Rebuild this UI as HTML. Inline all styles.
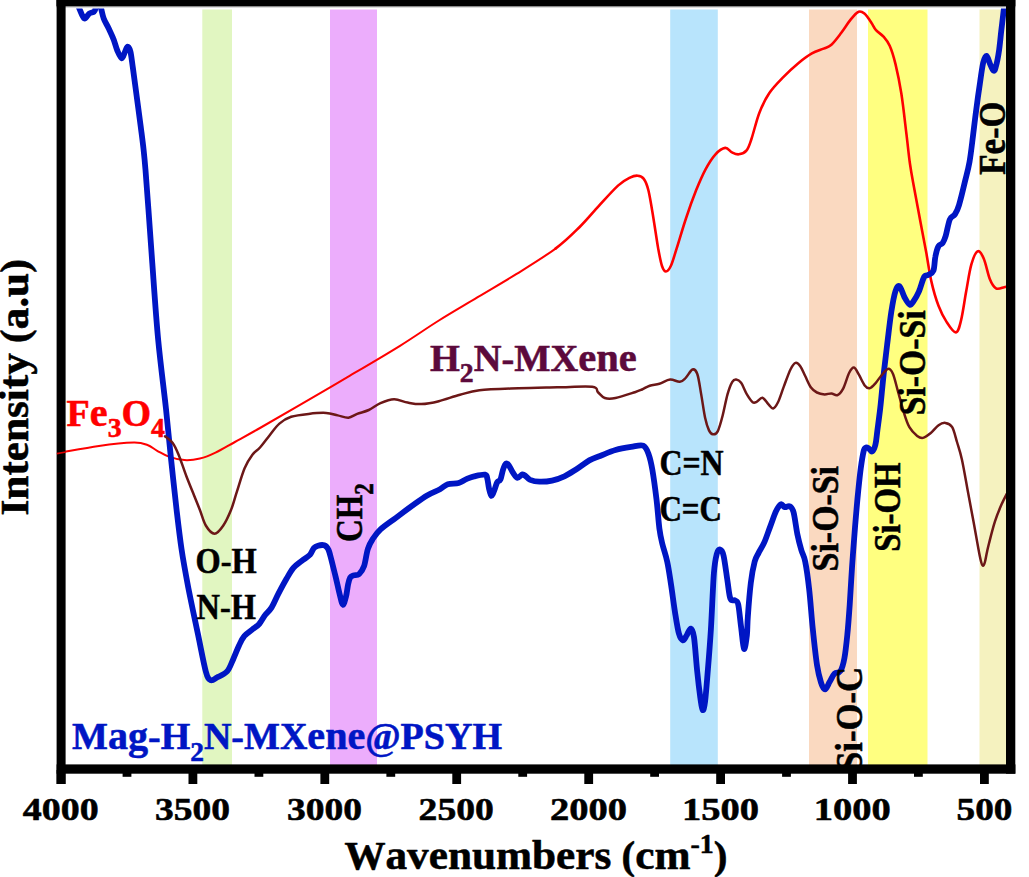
<!DOCTYPE html>
<html><head><meta charset="utf-8"><title>FTIR</title>
<style>html,body{margin:0;padding:0;background:#fff}body{width:1029px;height:877px;overflow:hidden;font-family:"Liberation Serif",serif}</style></head>
<body>
<svg width="1029" height="877" viewBox="0 0 1029 877" style="display:block">
<rect width="1029" height="877" fill="#fff"/>
<rect x="202.3" y="9.5" width="29.7" height="756" fill="#e1f6c1"/>
<rect x="330.0" y="9.5" width="47.0" height="756" fill="#ecadfc"/>
<rect x="670.2" y="9.5" width="47.6" height="756" fill="#b8e4fc"/>
<rect x="809.0" y="9.5" width="48.0" height="756" fill="#fad9c0"/>
<rect x="868.0" y="9.5" width="59.5" height="756" fill="#ffff80"/>
<rect x="979.5" y="9.5" width="26.5" height="756" fill="#f5f2bf"/>
<defs><clipPath id="cp"><rect x="60" y="8.6" width="950" height="760"/></clipPath></defs>
<g clip-path="url(#cp)" fill="none" stroke-linejoin="round" stroke-linecap="round">
<path d="M60.0,452.7 C66.5,451.6 86.6,447.6 98.9,445.9 C111.2,444.2 125.8,442.8 133.9,442.6 C142.0,442.5 143.6,443.6 147.5,445.0 C151.4,446.4 153.6,448.9 157.2,450.8 C160.8,452.7 164.3,455.1 168.8,456.6 C173.3,458.2 179.2,459.8 184.4,460.1 C189.6,460.4 194.7,459.8 199.9,458.6 C205.1,457.4 209.7,455.5 215.5,452.7 C221.3,449.9 227.5,446.1 234.9,442.0 C242.3,437.9 249.2,434.2 260.0,428.0 C270.9,421.8 285.0,413.5 300.0,404.8 C315.0,396.1 333.3,385.4 350.0,375.6 C366.7,365.8 385.2,355.0 400.0,345.8 C414.8,336.6 425.9,328.6 438.9,320.5 C451.8,312.4 464.8,305.0 477.7,297.2 C490.6,289.4 503.6,282.0 516.6,273.9 C529.6,265.8 545.0,256.4 555.5,248.6" stroke="#ff0000" stroke-width="2.05"/>
<path d="M555.5,248.6 C566.0,240.8 572.2,234.3 579.4,227.2 C586.6,220.1 592.4,212.8 598.9,205.8 C605.4,198.8 613.1,190.1 618.3,185.4 C623.5,180.7 626.8,179.2 630.0,177.6 C633.2,176.0 635.4,175.5 637.7,175.7 C640.0,175.9 641.8,176.2 643.6,178.6 C645.4,181.0 646.8,183.8 648.4,190.3 C650.0,196.8 651.7,207.8 653.3,217.5 C654.9,227.2 656.8,240.5 658.2,248.6 C659.7,256.7 660.7,262.2 662.0,266.0 C663.3,269.8 664.4,271.5 665.9,271.5 C667.4,271.5 669.0,269.8 670.8,266.0 C672.6,262.2 674.0,256.7 676.6,248.6 C679.2,240.5 683.0,227.2 686.3,217.5 C689.5,207.8 692.9,198.4 696.1,190.3 C699.4,182.2 702.6,174.9 705.8,168.9 C709.0,162.9 712.3,157.8 715.5,154.3 C718.7,150.8 722.5,148.2 725.2,147.9 C728.0,147.6 729.7,151.3 732.0,152.4 C734.3,153.5 736.4,154.6 738.8,154.3 C741.2,154.0 744.5,153.0 746.6,150.4 C748.7,147.8 749.5,144.8 751.6,138.5 C753.7,132.2 756.5,120.2 759.4,112.7 C762.3,105.2 765.3,99.1 769.2,93.3 C773.1,87.5 777.9,82.7 782.8,77.7 C787.6,72.7 793.4,67.2 798.3,63.2 C803.1,59.2 807.7,55.8 811.9,53.4 C816.1,51.0 820.4,50.0 823.6,48.6 C826.9,47.2 828.5,47.3 831.4,44.7 C834.3,42.1 837.9,37.2 841.1,33.0 C844.3,28.8 847.9,22.9 850.8,19.4 C853.7,15.8 856.3,12.7 858.6,11.7 C860.9,10.7 862.3,11.8 864.4,13.6 C866.5,15.4 869.3,19.6 871.2,22.4 C873.1,25.1 873.9,27.7 876.0,30.1 C878.1,32.5 881.5,34.3 883.8,36.9 C886.1,39.5 887.8,41.2 889.7,45.7 C891.7,50.2 893.6,56.2 895.5,64.1 C897.4,72.0 899.5,82.0 901.3,93.3 C903.1,104.6 904.8,120.4 906.2,132.2 C907.7,144.0 908.7,154.9 910.0,164.0 C911.3,173.1 912.2,177.4 913.9,186.7 C915.6,195.9 918.0,208.6 920.0,219.5 C922.0,230.4 924.3,242.0 926.2,252.3 C928.1,262.6 929.2,272.2 931.3,281.1 C933.3,290.0 935.9,298.9 938.5,305.7 C941.1,312.5 943.8,317.7 946.7,322.1 C949.6,326.6 953.5,332.7 955.9,332.4 C958.3,332.1 959.4,327.0 961.1,320.1 C962.8,313.2 964.5,300.5 966.2,291.3 C967.9,282.1 969.4,271.4 971.3,264.7 C973.2,258.0 975.4,252.3 977.5,251.3 C979.6,250.3 981.7,253.9 983.7,258.5 C985.8,263.1 987.8,274.0 989.8,279.0 C991.8,284.0 993.6,286.9 996.0,288.3 C998.4,289.7 1002.2,287.6 1004.2,287.2 C1006.2,286.8 1007.6,286.4 1008.3,286.2" stroke="#ff0000" stroke-width="2.6"/>
<path d="M78.0,4.0 C78.2,4.8 78.4,6.3 79.4,8.7 C80.5,11.1 82.7,17.7 84.3,18.5 C85.9,19.3 87.6,14.7 89.2,13.6 C90.8,12.5 93.0,12.5 94.0,11.7 C95.0,10.9 95.1,10.0 95.5,8.7 C95.9,7.4 96.2,4.8 96.3,4.0" stroke="#0016c4" stroke-width="5.8"/>
<path d="M100.3,4.0 C100.5,4.8 100.6,6.3 101.2,8.7 C101.8,11.1 102.5,15.2 103.7,18.5 C104.9,21.8 107.0,24.8 108.6,28.2 C110.2,31.6 112.0,35.2 113.4,38.9 C114.9,42.6 115.9,47.3 117.3,50.5 C118.7,53.7 120.5,58.1 121.8,58.3 C123.1,58.5 124.1,53.5 125.1,51.5 C126.1,49.5 126.7,46.6 127.6,46.6 C128.5,46.6 129.5,47.9 130.4,51.5 C131.3,55.1 131.8,60.4 132.9,68.0 C134.0,75.6 135.5,87.5 136.8,97.2 C138.1,106.9 139.6,117.5 140.7,126.3 C141.8,135.0 142.8,142.4 143.6,149.7 C144.4,157.0 144.7,160.1 145.5,170.0 C146.3,179.9 147.3,193.3 148.4,208.9 C149.5,224.5 150.7,241.5 152.3,263.3 C153.9,285.2 155.9,315.9 158.2,340.0 C160.5,364.1 163.8,388.6 165.9,408.0 C168.0,427.4 169.0,439.6 170.8,456.6 C172.6,473.6 174.8,494.6 176.6,510.0 C178.4,525.4 179.6,535.9 181.5,548.9 C183.4,561.9 185.6,573.5 188.3,587.7 C191.1,602.0 195.1,620.5 198.0,634.4 C200.9,648.3 203.7,663.8 205.8,671.4 C207.9,679.0 208.7,679.1 210.6,680.1 C212.5,681.1 214.7,678.7 217.4,677.2 C220.2,675.8 224.5,674.3 227.1,671.4 C229.7,668.5 231.1,663.9 233.0,659.7 C234.9,655.5 237.0,649.9 238.8,646.0 C240.7,642.1 241.8,639.0 244.1,636.3 C246.3,633.5 249.8,631.5 252.3,629.5 C254.8,627.5 257.1,626.3 259.2,624.0 C261.2,621.7 262.6,618.5 264.6,615.8 C266.7,613.1 269.2,611.2 271.5,607.6 C273.8,604.0 275.8,598.7 278.3,593.9 C280.8,589.1 284.0,583.1 286.5,578.8 C289.0,574.5 290.9,570.9 293.4,567.9 C295.9,564.9 298.9,563.2 301.6,561.0 C304.3,558.8 307.8,557.1 309.8,554.9 C311.9,552.7 312.5,549.5 313.9,548.0 C315.3,546.5 316.3,546.2 318.0,545.7 C319.7,545.2 322.5,544.7 324.2,545.3 C325.9,545.9 327.1,546.8 328.3,549.4 C329.6,552.0 330.4,556.3 331.7,561.0 C332.9,565.7 334.4,571.8 335.8,577.5 C337.2,583.2 338.7,590.8 339.9,595.3 C341.1,599.8 341.9,604.6 342.9,604.8 C343.9,605.0 345.1,600.0 346.0,596.6 C346.9,593.2 347.4,587.5 348.1,584.3 C348.8,581.1 349.3,579.0 350.2,577.5 C351.1,576.0 352.1,576.0 353.6,575.4 C355.1,574.8 357.4,575.6 359.1,574.1 C360.8,572.6 362.5,570.5 364.0,566.3 C365.5,562.1 366.4,553.3 367.9,548.8 C369.3,544.3 370.6,542.3 372.7,539.1 C374.8,535.9 376.6,533.0 380.5,529.4 C384.4,525.8 390.9,521.6 396.1,517.7 C401.3,513.8 406.4,509.8 411.6,506.1 C416.8,502.4 422.4,498.2 427.1,495.4 C431.8,492.6 436.6,491.1 440.0,489.2 C443.4,487.3 444.7,485.2 447.8,484.2 C450.9,483.2 455.6,483.9 458.7,483.0 C461.8,482.1 463.8,480.2 466.4,479.1 C469.0,478.0 471.1,477.0 474.2,476.3 C477.3,475.6 482.9,474.2 485.1,474.7 C487.3,475.2 486.8,476.8 487.4,479.1 C488.0,481.4 488.4,485.6 489.0,488.4 C489.6,491.2 490.4,495.6 491.3,495.9 C492.2,496.2 493.4,492.3 494.4,490.0 C495.4,487.7 496.2,483.9 497.2,482.2 C498.2,480.5 499.4,481.7 500.4,479.6 C501.4,477.5 502.1,472.5 503.0,469.8 C503.9,467.1 505.1,464.1 506.1,463.5 C507.1,462.9 508.0,464.3 509.2,465.9 C510.4,467.5 511.7,470.9 513.1,472.9 C514.5,474.9 515.9,477.6 517.4,477.8 C518.9,478.1 521.0,474.7 522.4,474.4 C523.8,474.1 524.2,475.1 525.5,476.0 C526.8,476.9 527.9,478.9 530.2,479.9 C532.5,480.8 535.9,481.6 539.5,481.7 C543.1,481.8 547.9,481.5 552.0,480.6 C556.1,479.7 560.3,478.2 564.4,476.3 C568.5,474.4 572.6,471.6 576.8,469.0 C580.9,466.4 585.4,462.6 589.3,460.4 C593.2,458.2 595.6,457.7 600.0,456.0 C604.4,454.3 610.3,451.5 615.5,450.0 C620.7,448.5 626.4,447.6 631.0,446.9 C635.6,446.2 640.2,444.4 643.2,445.6 C646.2,446.9 647.2,450.3 648.7,454.4 C650.2,458.5 651.1,462.5 652.4,470.0 C653.7,477.5 655.3,489.6 656.5,499.4 C657.7,509.2 658.4,521.1 659.4,528.6 C660.4,536.1 661.1,538.6 662.4,544.1 C663.7,549.6 665.8,554.8 667.2,561.6 C668.7,568.4 669.8,576.6 671.1,585.0 C672.4,593.4 673.7,604.1 675.0,612.2 C676.3,620.3 677.6,628.9 678.9,633.6 C680.2,638.3 681.5,640.0 682.8,640.3 C684.1,640.6 685.3,637.5 686.6,635.5 C687.9,633.5 689.5,628.3 690.7,628.6 C691.9,628.9 692.9,629.9 694.0,637.2 C695.1,644.5 696.2,662.2 697.3,672.2 C698.3,682.2 699.4,691.2 700.3,697.5 C701.2,703.8 701.8,709.5 702.6,710.1 C703.4,710.8 704.2,708.4 705.1,701.4 C706.0,694.4 707.0,680.3 708.0,668.3 C709.0,656.3 709.9,645.2 710.9,629.4 C711.9,613.6 712.9,585.9 713.9,573.3 C714.9,560.7 715.8,557.8 716.8,553.9 C717.8,550.0 719.0,549.3 720.1,549.6 C721.2,549.9 722.4,550.5 723.6,555.8 C724.8,561.0 726.4,574.0 727.5,581.1 C728.6,588.2 729.1,595.4 730.4,598.6 C731.7,601.8 733.9,599.5 735.2,600.5 C736.5,601.5 737.2,600.0 738.2,604.4 C739.2,608.8 740.1,619.6 741.1,627.0 C742.1,634.4 743.0,647.5 744.0,648.9 C745.0,650.3 746.2,640.8 746.9,635.3 C747.5,629.8 747.2,624.7 747.9,616.0 C748.5,607.3 749.7,592.1 750.8,583.0 C751.9,573.9 753.4,566.6 754.7,561.6 C756.0,556.6 757.0,556.1 758.6,552.9 C760.2,549.7 762.5,546.6 764.4,542.2 C766.3,537.8 768.2,531.8 770.2,526.6 C772.2,521.4 774.3,514.8 776.1,511.1 C777.9,507.4 779.5,505.0 780.9,504.3 C782.3,503.6 783.3,506.9 784.8,507.2 C786.3,507.5 788.2,505.4 789.7,506.2 C791.2,507.0 792.2,507.4 793.5,512.1 C794.8,516.8 796.1,528.1 797.4,534.4 C798.7,540.7 800.0,545.5 801.3,550.0 C802.6,554.5 803.9,555.1 805.2,561.6 C806.5,568.1 807.9,577.7 809.1,588.8 C810.4,599.9 811.4,615.3 812.7,628.0 C814.0,640.7 815.6,655.9 817.0,665.0 C818.4,674.1 819.7,678.4 821.0,682.5 C822.3,686.6 823.5,689.5 825.0,689.4 C826.5,689.3 828.1,684.4 829.7,681.8 C831.3,679.1 832.8,675.3 834.6,673.5 C836.4,671.7 838.9,673.5 840.5,671.0 C842.1,668.5 843.3,664.3 844.4,658.3 C845.5,652.3 846.4,643.9 847.3,635.0 C848.2,626.1 848.9,616.5 849.7,605.0 C850.5,593.5 851.2,579.2 852.1,566.3 C853.0,553.4 854.0,539.5 855.0,527.5 C856.0,515.5 856.9,504.3 857.9,494.4 C858.9,484.5 859.8,475.2 860.8,468.0 C861.8,460.8 862.9,454.4 863.7,451.0 C864.5,447.6 864.9,448.1 865.7,447.6 C866.5,447.1 867.5,447.6 868.6,448.2 C869.7,448.8 871.0,452.1 872.1,451.5 C873.2,450.9 874.5,448.1 875.4,444.7 C876.3,441.3 876.5,437.3 877.3,431.1 C878.1,424.9 879.3,416.4 880.3,407.7 C881.3,398.9 882.1,389.1 883.2,378.6 C884.3,368.2 885.8,356.1 887.1,345.0 C888.5,333.9 889.9,320.8 891.3,311.9 C892.7,302.9 894.0,295.6 895.4,291.3 C896.8,287.0 898.0,285.2 899.5,286.2 C901.0,287.2 902.9,294.4 904.6,297.5 C906.3,300.6 908.2,304.2 909.8,304.7 C911.3,305.2 912.4,302.8 913.9,300.6 C915.4,298.4 917.3,295.2 919.0,291.3 C920.7,287.4 922.6,279.7 924.1,277.0 C925.6,274.3 926.7,275.9 928.2,274.9 C929.8,273.9 932.2,273.9 933.4,270.8 C934.6,267.7 934.5,260.6 935.4,256.5 C936.2,252.4 937.3,248.4 938.5,246.2 C939.7,244.0 941.4,244.8 942.6,243.1 C943.8,241.4 944.5,239.8 945.7,235.9 C946.9,232.0 948.3,223.1 949.8,219.5 C951.3,215.9 953.4,216.8 954.9,214.4 C956.4,212.0 957.3,210.8 959.0,205.1 C960.7,199.4 963.5,187.7 965.2,180.5 C967.0,173.3 968.2,169.3 969.5,162.0 C970.8,154.7 971.8,145.5 972.9,136.7 C974.0,127.9 975.1,118.1 976.3,109.4 C977.4,100.7 978.6,92.1 979.8,84.3 C980.9,76.5 982.1,67.5 983.2,62.7 C984.3,58.0 985.5,55.6 986.6,55.8 C987.7,56.0 988.9,61.3 990.0,63.8 C991.1,66.3 992.4,70.0 993.4,70.6 C994.4,71.2 994.8,70.6 995.7,67.2 C996.7,63.8 998.2,56.4 999.1,50.1 C1000.0,43.8 1000.6,36.2 1001.4,29.6 C1002.2,23.0 1003.2,14.7 1003.7,10.3 C1004.2,5.9 1004.4,4.2 1004.5,3.0" stroke="#0016c4" stroke-width="5.8"/>
<path d="M165.0,436.2 C166.3,437.3 170.4,439.9 172.7,443.0 C175.0,446.1 176.3,449.2 178.6,454.7 C180.9,460.2 183.7,469.2 186.3,476.0 C188.9,482.8 191.8,489.8 194.1,495.5 C196.4,501.2 197.9,505.0 199.9,510.0 C201.9,515.0 203.4,521.5 205.8,525.5 C208.2,529.5 211.6,533.7 214.5,533.7 C217.4,533.7 220.6,529.5 223.3,525.5 C226.1,521.5 228.7,515.6 231.0,510.0 C233.3,504.4 234.6,498.6 236.9,491.6 C239.2,484.7 242.0,474.5 244.6,468.3 C247.2,462.1 249.8,458.2 252.4,454.7 C255.0,451.2 257.1,450.8 260.0,447.5 C262.9,444.2 266.5,439.2 269.7,435.2 C272.9,431.2 275.8,426.7 279.4,423.6 C283.0,420.5 286.2,418.4 291.1,416.8 C296.0,415.2 302.8,414.5 308.6,413.9 C314.4,413.2 321.2,412.6 326.1,412.9 C331.0,413.1 334.0,414.6 337.7,415.4 C341.4,416.2 345.1,417.9 348.4,417.7 C351.6,417.4 353.8,415.2 357.2,413.9 C360.6,412.6 364.9,411.8 368.8,410.0 C372.7,408.2 376.3,405.0 380.5,403.2 C384.7,401.4 389.6,399.4 394.1,399.3 C398.6,399.2 403.2,401.8 407.7,402.6 C412.2,403.4 416.1,404.3 421.3,404.1 C426.5,403.9 432.4,402.8 438.8,401.2 C445.2,399.6 453.2,396.6 460.0,394.8 C466.8,393.0 469.7,391.4 479.4,390.3 C489.1,389.2 505.3,388.8 518.3,388.3 C531.3,387.8 544.9,387.6 557.2,387.3 C569.5,387.1 585.4,386.0 592.2,386.8 C599.0,387.6 595.9,390.3 598.0,392.2 C600.1,394.1 601.9,397.0 604.8,398.0 C607.7,399.0 610.5,399.0 615.5,398.0 C620.5,397.0 630.5,393.6 634.9,392.2 C639.3,390.8 639.5,390.6 642.0,389.5 C644.5,388.4 646.8,386.7 649.7,385.7 C652.6,384.7 656.0,384.7 659.4,383.7 C662.8,382.7 666.7,379.8 670.1,379.5 C673.5,379.2 677.2,382.1 679.8,381.8 C682.4,381.5 683.6,379.9 685.7,377.9 C687.8,375.8 690.6,370.1 692.5,369.5 C694.4,368.9 695.8,369.9 697.3,374.0 C698.8,378.1 699.9,387.1 701.2,394.4 C702.5,401.7 703.8,411.7 705.1,417.7 C706.4,423.7 707.7,427.6 709.0,430.4 C710.3,433.2 711.4,434.1 712.9,434.3 C714.4,434.5 716.1,434.5 717.7,431.4 C719.3,428.3 721.0,422.0 722.6,415.8 C724.2,409.6 725.9,400.1 727.5,394.4 C729.1,388.7 730.8,384.3 732.3,381.8 C733.8,379.3 734.7,379.3 736.2,379.5 C737.7,379.7 739.3,380.3 741.1,382.8 C742.9,385.3 745.0,391.2 746.9,394.4 C748.8,397.6 751.1,401.0 752.7,402.2 C754.3,403.4 755.0,402.6 756.6,401.8 C758.2,401.1 760.5,397.3 762.4,397.7 C764.3,398.1 766.5,402.3 768.3,404.1 C770.1,405.9 771.5,408.7 773.1,408.4 C774.7,408.1 776.2,405.8 778.0,402.2 C779.8,398.6 781.7,392.1 783.8,386.6 C785.9,381.1 788.6,373.1 790.6,369.2 C792.6,365.2 793.9,363.4 795.5,362.9 C797.1,362.4 798.7,364.0 800.3,366.2 C801.9,368.4 803.4,372.4 805.2,376.0 C807.0,379.6 809.0,384.9 811.0,387.6 C813.0,390.4 814.6,391.4 816.9,392.5 C819.2,393.6 822.2,394.2 824.6,394.4 C827.0,394.5 829.2,393.3 831.4,393.4 C833.5,393.5 835.5,396.0 837.5,395.1 C839.5,394.2 841.3,392.0 843.3,388.3 C845.2,384.6 847.4,376.3 849.2,372.8 C851.0,369.3 852.4,367.2 854.0,367.5 C855.6,367.8 857.1,371.7 858.9,374.7 C860.7,377.7 862.9,383.1 864.7,385.4 C866.5,387.7 867.8,388.6 869.6,388.3 C871.4,388.0 873.5,385.5 875.4,383.4 C877.3,381.3 879.1,378.1 881.2,375.7 C883.3,373.3 886.0,369.2 888.0,368.9 C890.0,368.6 891.3,370.1 892.9,373.7 C894.5,377.3 895.9,384.0 897.7,390.3 C899.5,396.6 901.7,405.5 903.6,411.6 C905.5,417.8 907.1,423.1 909.4,427.2 C911.7,431.2 914.9,434.1 917.2,435.9 C919.5,437.7 920.7,438.4 923.0,437.9 C925.3,437.4 928.2,435.1 930.8,433.0 C933.4,430.9 936.2,426.9 938.6,425.2 C941.0,423.5 943.1,422.6 945.4,422.9 C947.7,423.2 950.3,424.0 952.2,427.2 C954.1,430.4 955.4,436.6 957.0,442.0 C958.6,447.4 960.1,451.3 961.9,459.4 C963.7,467.5 965.8,480.1 967.7,490.5 C969.6,500.9 971.7,511.9 973.5,521.6 C975.3,531.3 977.2,542.2 978.4,548.8 C979.6,555.4 980.2,558.2 980.9,561.0 C981.6,563.8 982.1,565.4 982.8,565.6 C983.4,565.9 984.1,564.8 984.8,562.5 C985.5,560.2 986.3,555.2 987.0,552.0 C987.7,548.8 987.8,548.1 989.1,543.0 C990.4,537.9 992.8,528.1 994.9,521.6 C997.0,515.1 999.4,509.3 1001.7,504.1 C1004.0,498.9 1007.4,492.8 1008.5,490.5" stroke="#6c1717" stroke-width="2.5"/>
</g>
<g font-family="'Liberation Serif', serif" font-weight="bold" stroke-width="0.55" stroke-linejoin="round">
<text id="fe3o4" x="66.60" y="425.50" font-size="37" fill="#ff0000" stroke="#ff0000" textLength="98.40" lengthAdjust="spacingAndGlyphs">F<tspan font-size="39.03">e</tspan><tspan dy="11.5" font-size="27">3</tspan><tspan dy="-11.5">O</tspan><tspan dy="11.5" font-size="27">4</tspan></text>
<text id="h2n" x="430.00" y="370.60" font-size="37.5" fill="#5c0a3c" stroke="#5c0a3c" textLength="206.70" lengthAdjust="spacingAndGlyphs">H<tspan dy="11" font-size="27">2</tspan><tspan dy="-11">N-MX<tspan font-size="39.56">ene</tspan></tspan></text>
<text id="mag" x="72.00" y="749.10" font-size="37.5" fill="#0016c4" stroke="#0016c4" textLength="430.00" lengthAdjust="spacingAndGlyphs">M<tspan font-size="39.56">ag</tspan>-H<tspan dy="11.5" font-size="27">2</tspan><tspan dy="-11.5">N-MX<tspan font-size="39.56">ene</tspan>@PSYH</tspan></text>
<text id="oh" x="195.60" y="572.60" font-size="35.5" fill="#000" stroke="#000" textLength="61.20" lengthAdjust="spacingAndGlyphs">O-H</text>
<text id="nh" x="196.60" y="619.40" font-size="35.5" fill="#000" stroke="#000" textLength="59.40" lengthAdjust="spacingAndGlyphs">N-H</text>
<text id="cn" x="659.40" y="475.40" font-size="35.5" fill="#000" stroke="#000" textLength="64.20" lengthAdjust="spacingAndGlyphs">C=N</text>
<text id="cc" x="659.40" y="521.40" font-size="35.5" fill="#000" stroke="#000" textLength="62.60" lengthAdjust="spacingAndGlyphs">C=C</text>
<text id="ch2" x="362.00" y="542.00" font-size="37" fill="#000" stroke="#000" textLength="58.80" lengthAdjust="spacingAndGlyphs" transform="rotate(-90 362.00 542.00)">CH<tspan dy="10.5" font-size="27">2</tspan></text>
<text id="feo" x="1004.80" y="174.80" font-size="37" fill="#000" stroke="#000" textLength="73.20" lengthAdjust="spacingAndGlyphs" transform="rotate(-90 1004.80 174.80)">F<tspan font-size="39.03">e</tspan>-O</text>
<text id="sios1" x="838.50" y="571.40" font-size="37" fill="#000" stroke="#000" textLength="105.40" lengthAdjust="spacingAndGlyphs" transform="rotate(-90 838.50 571.40)">Si-O-Si</text>
<text id="sios2" x="925.50" y="415.30" font-size="37" fill="#000" stroke="#000" textLength="105.00" lengthAdjust="spacingAndGlyphs" transform="rotate(-90 925.50 415.30)">Si-O-Si</text>
<text id="sioh" x="899.70" y="551.80" font-size="37" fill="#000" stroke="#000" textLength="89.40" lengthAdjust="spacingAndGlyphs" transform="rotate(-90 899.70 551.80)">Si-OH</text>
<text id="sioc" x="861.60" y="771.00" font-size="37" fill="#000" stroke="#000" textLength="104.00" lengthAdjust="spacingAndGlyphs" transform="rotate(-90 861.60 771.00)">Si-O-C</text>
<text id="ylab" x="27.60" y="515.60" font-size="39.5" fill="#000" stroke="#000" textLength="256.40" lengthAdjust="spacingAndGlyphs" transform="rotate(-90 27.60 515.60)">I<tspan font-size="41.67">ntensity</tspan> (<tspan font-size="41.67">a.u</tspan>)</text>
<text id="xlab" x="344.40" y="868.50" font-size="39" fill="#000" stroke="#000" textLength="383.00" lengthAdjust="spacingAndGlyphs">W<tspan font-size="41.14">avenumbers</tspan> (<tspan font-size="41.14">cm</tspan><tspan dy="-15.8" font-size="26.5">-1</tspan><tspan dy="15.8">)</tspan></text>
<text id="t4000" x="22.80" y="820.00" font-size="31.8" fill="#000" stroke="#000" textLength="75.80" lengthAdjust="spacingAndGlyphs">4000</text>
<text id="t3500" x="155.00" y="820.00" font-size="31.8" fill="#000" stroke="#000" textLength="75.00" lengthAdjust="spacingAndGlyphs">3500</text>
<text id="t3000" x="287.00" y="820.00" font-size="31.8" fill="#000" stroke="#000" textLength="75.00" lengthAdjust="spacingAndGlyphs">3000</text>
<text id="t2500" x="418.60" y="820.00" font-size="31.8" fill="#000" stroke="#000" textLength="75.20" lengthAdjust="spacingAndGlyphs">2500</text>
<text id="t2000" x="550.00" y="820.00" font-size="31.8" fill="#000" stroke="#000" textLength="77.00" lengthAdjust="spacingAndGlyphs">2000</text>
<text id="t1500" x="682.00" y="820.00" font-size="31.8" fill="#000" stroke="#000" textLength="77.00" lengthAdjust="spacingAndGlyphs">1500</text>
<text id="t1000" x="813.80" y="820.00" font-size="31.8" fill="#000" stroke="#000" textLength="77.00" lengthAdjust="spacingAndGlyphs">1000</text>
<text id="t500" x="956.60" y="820.00" font-size="31.8" fill="#000" stroke="#000" textLength="55.80" lengthAdjust="spacingAndGlyphs">500</text>
</g>
<g fill="#000">
<rect x="56.4" y="0" width="959" height="6"/>
<rect x="56.4" y="6" width="959" height="1.3" fill="#8a8a8a"/>
<rect x="56.6" y="0" width="9" height="784"/>
<rect x="56.6" y="764.4" width="958.8" height="9.3"/>
<rect x="1006" y="0" width="9.3" height="773.7"/>
<rect x="980.0" y="770" width="8.8" height="14"/>
<rect x="848.1" y="770" width="8.8" height="14"/>
<rect x="716.2" y="770" width="8.8" height="14"/>
<rect x="584.3" y="770" width="8.8" height="14"/>
<rect x="452.3" y="770" width="8.8" height="14"/>
<rect x="320.4" y="770" width="8.8" height="14"/>
<rect x="188.5" y="770" width="8.8" height="14"/>
<rect x="56.6" y="770" width="8.8" height="14"/>
<rect x="914.0" y="770" width="8.8" height="6.8"/>
<rect x="782.1" y="770" width="8.8" height="6.8"/>
<rect x="650.2" y="770" width="8.8" height="6.8"/>
<rect x="518.3" y="770" width="8.8" height="6.8"/>
<rect x="386.4" y="770" width="8.8" height="6.8"/>
<rect x="254.5" y="770" width="8.8" height="6.8"/>
<rect x="122.6" y="770" width="8.8" height="6.8"/>
</g>
<path d="M56.8,453.6 L66,452" stroke="#ff0000" stroke-width="1.7" opacity="0.85" fill="none"/>
</svg>
</body></html>
